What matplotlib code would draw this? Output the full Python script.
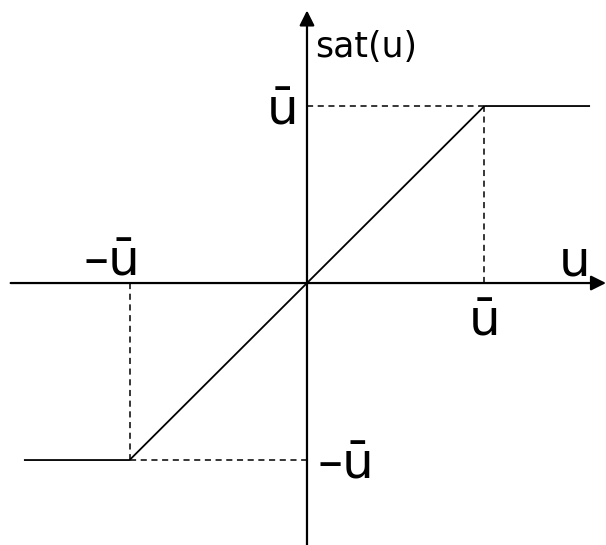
# saturation function sat(u) with limits +/- u_bar
import numpy as np
import matplotlib.pyplot as plt

u_bar = 1.0
u_pts = [-1.59, -u_bar, u_bar, 1.59]
sat_pts = list(np.clip(u_pts, -u_bar, u_bar))

u_label = "\u016b"
neg_label = "\u2013\u016b"

fig = plt.figure(figsize=(6.06, 5.45), dpi=100)
ax = fig.add_axes([0, 0, 1, 1])
ax.set_xlim(-1.73, 1.685)
ax.set_ylim(-1.48, 1.599)
ax.axis("off")

# axes with arrow heads
arrow = dict(arrowstyle="-|>,head_length=0.9,head_width=0.45",
             color="black", lw=1.6, shrinkA=0, shrinkB=0)
ax.annotate("", xy=(1.685, 0), xytext=(-1.67, 0), arrowprops=arrow)
ax.annotate("", xy=(0, 1.54), xytext=(0, -1.48), arrowprops=arrow)

# the saturation curve
ax.plot(u_pts, sat_pts, color="black", lw=1.3)

# dashed guides to the limits
dash = dict(color="black", lw=1.1, linestyle=(0, (4, 3)))
ax.plot([u_bar, u_bar], [0, u_bar], **dash)
ax.plot([0, u_bar], [u_bar, u_bar], **dash)
ax.plot([-u_bar, -u_bar], [0, -u_bar], **dash)
ax.plot([-u_bar, 0], [-u_bar, -u_bar], **dash)

fs = 36
ax.text(1.51, 0.045, "u", fontsize=fs, ha="center", va="baseline")
ax.text(0.045, 1.277, "sat(u)", fontsize=25, ha="left", va="baseline")
ax.text(-0.135, 0.893, u_label, fontsize=fs, ha="center", va="baseline")
ax.text(-1.10, 0.045, neg_label, fontsize=fs, ha="center", va="baseline")
ax.text(1.0, -0.294, u_label, fontsize=fs, ha="center", va="baseline")
ax.text(0.22, -1.107, neg_label, fontsize=fs, ha="center", va="baseline")

fig.savefig("out.png", dpi=100)
